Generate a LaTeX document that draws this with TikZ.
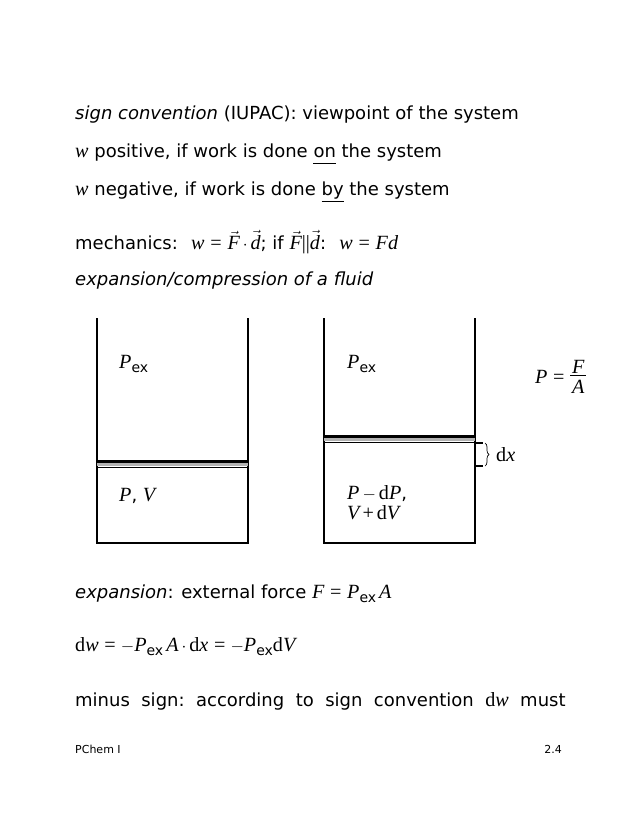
\documentclass[tikz,border=0pt]{standalone}
\usepackage{fontspec}
\usetikzlibrary{decorations.pathreplacing}
\setmainfont{DejaVu Sans}
\newfontfamily\serf[Scale=1.12]{Liberation Serif}
\newcommand{\mi}[1]{{\serf\itshape #1}}
\newcommand{\mr}[1]{{\serf #1}}
\newcommand{\sub}[1]{\raisebox{-0.25em}{\fontsize{14}{15}\selectfont #1}}
\newcommand{\vv}[1]{\ensuremath{\vec{\hbox{\mi{#1}}}}}
\newcommand{\ul}[1]{\underline{\smash{#1}\vphantom{y}}}
\begin{document}
\begin{tikzpicture}[x=1pt,y=-1pt,
  txt/.style={anchor=base west,inner sep=0pt,font=\fontsize{18}{21}\selectfont},
  lab/.style={anchor=base west,inner sep=0pt,font=\fontsize{18}{21}\selectfont},
  wall/.style={line width=1.3pt},
  foot/.style={anchor=base,inner sep=0pt,font=\fontsize{11}{12}\selectfont}]
\useasboundingbox (0,0) rectangle (638,826);
\node[txt] (t1) at (75,120) {\textit{sign convention} (IUPAC): viewpoint of the system};
\node[txt] (t2) at (75,158) {\mi{w} positive, if work is done \ul{on} the system};
\node[txt] (t3) at (75,196) {\mi{w} negative, if work is done \ul{by} the system};
\node[txt] (t4) at (75,249) {mechanics: \ \mi{w} \mr{=} \vv{F}\,\mr{$\cdot$}\,\vv{d}; if \vv{F}\mr{||}\vv{d}: \ \mi{w} \mr{=} \mi{Fd}};
\node[txt] (t5) at (75,285) {\textit{expansion/compression of a fluid}};
% cylinders
\draw[wall] (97,318) -- (97,543) -- (248,543) -- (248,318);
\draw[wall] (324,318) -- (324,543) -- (475,543) -- (475,318);
% pistons
\draw[line width=3pt] (97,461) -- (248,461);
\draw[line width=2.5pt,gray!60] (97,464.5) -- (248,464.5);
\draw[line width=1.6pt] (97,467.5) -- (248,467.5);
\draw[line width=3pt] (324,436) -- (475,436);
\draw[line width=2.5pt,gray!60] (324,439.5) -- (475,439.5);
\draw[line width=1.6pt] (324,442.5) -- (475,442.5);
% dx marker
\coordinate (a1) at (475,443);
\coordinate (a2) at (483,443);
\coordinate (b1) at (475,466);
\coordinate (b2) at (483,466);
\draw[line width=1.2pt] (a1) -- (a2) (b1) -- (b2);
\draw[line width=0.7pt,decorate,decoration={brace,amplitude=4pt}] (485,443) -- (485,466);
\node[lab] (dx) at (496,461) {\mr{d}\mi{x}};
% labels
\node[lab] (l1) at (119,368) {\mi{P}\sub{ex}};
\node[lab] (l2) at (119,501) {\mi{P}, \mi{V}};
\node[lab] (r1) at (347,368) {\mi{P}\sub{ex}};
\node[lab,align=left,anchor=north west,font=\fontsize{18}{20}\selectfont] (r2) at (347,485) {\mi{P}\,\mr{$-$}\,\mr{d}\mi{P},\\\mi{V}\,\mr{+}\,\mr{d}\mi{V}};
\node[lab] (pf) at (535,383) {\mi{P} \mr{=} \raisebox{-10pt}{\shortstack{\mi{F}\\[-1pt]\rule{16pt}{0.5pt}\\[1pt]\mi{A}}}};
% lower text
\node[txt] (t6) at (75,598) {\textit{expansion}: external force \mi{F} \mr{=} \mi{P}\sub{ex}\,\mi{A}};
\node[txt] (t7) at (75,651) {\mr{d}\mi{w} \mr{= $-$}\mi{P}\sub{ex}\,\mi{A}\,\mr{$\cdot$}\,\mr{d}\mi{x} \mr{= $-$}\mi{P}\sub{ex}\mr{d}\mi{V}};
\node[txt] (t8) at (75,706) {minus\ \ sign:\ \ according\ \ to\ \ sign\ \ convention\ \ \mr{d}\mi{w}\ \ must};
\node[foot,anchor=base west] (f1) at (75,753) {PChem I};
\node[foot,anchor=base east] (f2) at (562,753) {2.4};
\end{tikzpicture}
\end{document}
